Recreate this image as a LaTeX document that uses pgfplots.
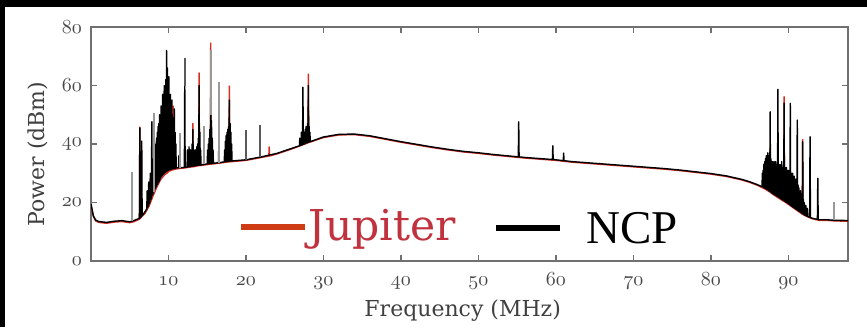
\documentclass[border=0pt]{standalone}
\usepackage{fontspec}
\usepackage{graphicx}
\usepackage{pgfplots}
\pgfplotsset{compat=1.18}
\newfontfamily\labelfont{DejaVu Serif}
\newfontfamily\jupfont{DejaVu Serif}
\newfontfamily\ncpfont{Liberation Serif}
\newcommand\osf[1]{\scalebox{2.0}{\fontsize{10}{12}\usefont{OML}{cmm}{m}{it}#1}}
\definecolor{axgray}{HTML}{707070}
\definecolor{lblgray}{HTML}{484848}
\definecolor{labgray}{HTML}{404040}
\definecolor{juptext}{RGB}{192,50,62}
\definecolor{jupline}{RGB}{205,60,20}
\definecolor{jupdata}{RGB}{215,45,35}
\begin{document}
\begin{tikzpicture}
\fill[black] (0pt,0pt) rectangle (867pt,-327pt);
\fill[white] (5pt,-7pt) rectangle (867pt,-327pt);
\begin{axis}[
  at={(91pt,-261pt)}, anchor=south west,
  width=757pt, height=234pt, scale only axis,
  xmin=0, xmax=97.7, ymin=0, ymax=80,
  xtick={10,20,30,40,50,60,70,80,90},
  xticklabels={\osf{10},\osf{20},\osf{30},\osf{40},\osf{50},\osf{60},\osf{70},\osf{80},\osf{90}},
  ytick={0,20,40,60,80},
  yticklabels={\osf{0},\osf{20},\osf{40},\osf{60},\osf{80}},
  tick align=inside,
  major tick length=6pt,
  axis line style={draw=axgray, line width=2pt},
  every tick/.style={draw=axgray, line width=1.6pt},
  tick label style={text=lblgray},
  xticklabel style={inner sep=0pt, text height=24pt, text depth=0pt},
  yticklabel style={anchor=east, inner sep=0pt, xshift=-9pt},
  xlabel={Frequency (MHz)},
  ylabel={Power (dBm)},
  xlabel style={font=\labelfont\fontsize{22}{26}\selectfont, text=labgray, at={(axis description cs:0.491,-0.214)}, anchor=center},
  ylabel style={font=\labelfont\fontsize{22}{26}\selectfont, text=labgray, at={(axis description cs:-0.070,0.457)}, anchor=center},
  unbounded coords=jump,
]
% Jupiter
\addplot[jupdata, line width=1.4pt, line join=round] coordinates {
(0,19.3)(0.3,15.2)(0.6,13.7)(1,13.2)(2,12.9)(3,13.3)(4,13.5)(5,13.1)(5.5,13.4)(6,14)(6.25,14.3)(6.3,45.8)(6.35,14.5)(6.5,15)(7,16.4)(7.5,18.8)(8,22.2)(8.5,25.3)(9,27.9)(9.5,29.5)(9.7,29.8)(9.75,55)(9.8,30)(10,30.6)(10.55,31.2)(10.6,53)(10.65,31.2)(11,31.5)(12,31.8)(13.1,32.2)(13.15,47)(13.2,32.2)(13.9,32.6)(13.95,64.3)(14.0,32.6)(15.4,33.1)(15.45,74.5)(15.5,33.1)(17.8,33.9)(17.85,59.8)(17.9,33.9)(20,34.4)(22,35.4)(22.95,35.9)(23,39)(23.05,35.9)(24,36.6)(26,38.4)(28,40.4)(28.05,63.9)(28.1,40.5)(30,42.2)(32,43.1)(34,43.2)(36,42.6)(38,41.6)(40,40.6)(42,39.7)(44,38.8)(46,38)(48,37.3)(50,36.8)(52,36.2)(54,35.7)(56,35.2)(58,34.8)(60,34.4)(62,33.8)(64,33.4)(66,33)(68,32.6)(70,32.2)(72,31.8)(74,31.4)(76,30.9)(78,30.3)(80,29.7)(82,28.9)(84,27.7)(85,26.9)(86,25.9)(87,24.6)(87.6,23.6)(87.65,38.6)(87.7,23.4)(88,22.8)(89,21.1)(89.4,20.4)(89.45,56.2)(89.5,20.3)(90,19.4)(91,17.5)(91.8,16)(91.85,41.5)(91.9,15.9)(92,15.7)(93,14.5)(94,13.9)(95,13.9)(96,13.7)(97.7,13.6)
};
% NCP
\addplot[black, line width=1.4pt, line join=round] coordinates {
(0,19.5)(0.3,15.5)(0.6,14)(1,13.5)(2,13.2)(3,13.6)(4,13.8)(5,13.4)(5.5,13.8)(6,14.3)
(6.25,14.6)(6.3,45.5)(6.35,14.8)(6.5,15.3)(6.55,41)(6.6,15.5)(6.8,16.2)(7,17)
(7.2,17.8)(7.25,24)(7.3,18.3)(7.4,19)(7.45,27)(7.5,19.5)(7.6,20.2)(7.65,30)(7.7,21)(7.8,21.8)(7.85,47.6)(7.9,22.5)(8.0,23)(8.05,35)(8.1,23.6)(8.15,37)(8.2,24.2)(8.25,36)(8.3,24.8)(8.35,40)(8.4,25.3)(8.45,42)(8.5,26)
(8.55,44)(8.6,26.2)(8.65,46)(8.7,26.8)(8.75,47)(8.8,27.3)(8.85,50)(8.9,27.8)(8.95,48)(9.0,28.5)(9.05,53)(9.1,28.8)(9.15,50)(9.2,29.2)(9.25,57)(9.3,29.5)(9.35,54)(9.4,29.8)(9.45,60)(9.5,30)(9.55,57)(9.6,30.3)(9.65,62)(9.7,30.5)(9.75,72)(9.8,30.7)(9.85,66)(9.9,30.9)(9.95,60)(10.0,31)(10.05,63)(10.1,31.1)(10.15,55)(10.2,31.2)(10.25,57)(10.3,31.3)(10.35,52)(10.4,31.4)(10.45,55)(10.5,31.5)(10.55,49)(10.6,31.5)(10.65,47)(10.7,31.6)(10.75,52)(10.8,31.6)(10.85,44)(10.9,31.7)(10.95,40)(11.0,31.8)(11.1,31.8)
(11.3,31.9)(11.35,36)(11.4,31.9)(11.6,31.9)(12.05,32)(12.1,62)(12.15,32)
(12.4,32.1)(12.45,38)(12.5,32.1)(12.55,37)(12.6,32.2)(12.65,39)(12.7,32.2)(12.75,36)(12.8,32.3)(12.85,38)(12.9,32.3)(12.95,37)(13.0,32.4)(13.05,40)(13.1,32.4)(13.15,45)(13.2,32.4)(13.25,38)(13.3,32.5)(13.35,36)(13.4,32.5)(13.45,38)(13.5,32.6)(13.55,37)(13.6,32.6)(13.65,39)(13.7,32.7)(13.75,40)(13.8,32.7)(13.85,42)(13.9,32.7)(13.95,60)(14.0,32.8)(14.05,44)(14.1,32.8)(14.15,38)(14.2,32.8)(14.3,32.9)
(15.0,33.2)(15.05,38)(15.1,33.2)(15.15,40)(15.2,33.2)(15.25,42)(15.3,33.3)(15.35,45)(15.4,33.3)(15.45,56.7)(15.5,33.3)(15.55,48)(15.6,33.4)(15.65,42)(15.7,33.4)(15.75,38)(15.8,33.4)
(16.45,33.6)(16.5,40)(16.55,33.6)
(17.2,33.9)(17.25,38)(17.3,33.9)(17.35,41)(17.4,34)(17.45,43)(17.5,34)(17.55,44)(17.6,34)(17.65,45)(17.7,34)(17.75,46)(17.8,34.1)(17.85,55)(17.9,34.1)(17.95,47)(18.0,34.1)(18.05,44)(18.1,34.1)(18.15,40)(18.2,34.2)
(20,34.6)(22,35.6)(23,36.2)(24,36.8)(26,38.6)
(26.9,39.4)(26.95,42)(27.0,39.5)(27.1,39.6)(27.15,44)(27.2,39.7)(27.3,39.8)(27.35,59.4)(27.4,39.9)(27.5,40)(27.55,44)(27.6,40.1)(27.65,45)(27.7,40.2)(27.75,46)(27.8,40.3)(27.85,44)(27.9,40.4)(27.95,47)(28.0,40.5)(28.05,60)(28.1,40.6)(28.15,46)(28.2,40.7)(28.25,44)(28.3,40.8)(28.4,40.9)
(30,42.4)(32,43.3)(34,43.4)(36,42.8)(38,41.8)(40,40.8)(42,39.9)(44,39)(46,38.2)(48,37.5)(50,37)(52,36.4)(54,35.9)(55.15,35.6)(55.2,47.6)(55.25,35.6)(56,35.4)(58,35)(59.55,34.7)(59.6,39.4)(59.65,34.7)(60,34.6)(60.95,34.3)(61,36.9)(61.05,34.3)(62,34)(64,33.6)(66,33.2)(68,32.8)(70,32.4)(72,32)(74,31.6)(76,31.1)(78,30.5)(80,29.9)(82,29.1)(84,27.9)(85,27.1)(86,26.1)
(86.6,25.4)(86.65,30)(86.7,25.3)(86.75,31)(86.8,25.1)(86.85,33)(86.9,25)(86.95,34)(87.0,24.8)(87.05,35)(87.1,24.7)(87.15,36)(87.2,24.5)(87.25,36)(87.3,24.4)(87.35,37)(87.4,24.2)(87.45,36)(87.5,24)(87.55,35)(87.6,23.8)(87.65,51)(87.7,23.6)(87.75,35)(87.8,23.4)(87.85,34)(87.9,23.2)(87.95,34)(88.0,23)(88.05,33)(88.1,22.8)(88.15,34)(88.2,22.7)(88.25,33)(88.3,22.5)(88.35,34)(88.4,22.4)(88.45,33)(88.5,22.2)(88.55,32)(88.6,22.0)(88.65,58.7)(88.7,21.9)(88.75,33)(88.8,21.7)(88.85,32)(88.9,21.5)(88.95,33)(89.0,21.3)(89.05,32)(89.1,21.2)(89.15,34)(89.2,21)(89.25,32)(89.3,20.8)(89.35,31)(89.4,20.7)(89.45,54)(89.5,20.5)(89.55,32)(89.6,20.3)(89.65,31)(89.7,20.1)(89.75,32)(89.8,20)(89.85,31)(89.9,19.8)(89.95,30)(90.0,19.6)(90.05,31)(90.1,19.4)(90.15,30)(90.2,19.2)(90.25,53.9)(90.3,19)(90.35,30)(90.4,18.8)(90.45,29)(90.5,18.6)(90.55,30)(90.6,18.4)(90.65,28)(90.7,18.2)(90.75,29)(90.8,18.1)(90.85,27)(90.9,17.9)(90.95,28)(91.0,17.7)(91.05,26)(91.1,17.5)(91.15,48.2)(91.2,17.3)(91.25,26)(91.3,17.1)(91.35,25)(91.4,17)(91.45,24)(91.5,16.8)(91.55,24)(91.6,16.6)(91.65,23)(91.7,16.4)(91.75,22)(91.8,16.2)(91.85,40.8)(91.9,16.1)(91.95,21)(92.0,15.9)(92.05,20)(92.1,15.8)(92.2,15.6)(92.25,19)(92.3,15.5)(92.4,15.3)(92.45,18)(92.5,15.2)(92.75,15)(92.8,42.5)(92.85,14.9)(93,14.7)(93.75,14.2)(93.8,28.3)(93.85,14.2)(94,14.1)(95,14.1)(96,13.9)(97,13.9)(97.7,13.8)
};
% light grey spikes (faint lines)
\addplot[black!40, line width=2pt] coordinates {
(5.3,13.6)(5.3,30.5)(5.31,nan)
(8.1,23.6)(8.1,50.5)(8.11,nan)
(11.5,31.9)(11.5,43.7)(11.51,nan)
(14.6,33)(14.6,46)(14.61,nan)
(15.45,50)(15.45,72)(15.46,nan)
(16.5,33.6)(16.5,61.3)(16.51,nan)
(95.9,14)(95.9,20.3)
};
% dark grey spikes
\addplot[black!65, line width=2pt] coordinates {
(12.1,60)(12.1,69.3)(12.11,nan)
(20.0,34.6)(20.0,44.8)(20.01,nan)
(21.8,35.5)(21.8,46.5)
};
\end{axis}
% legend
\draw[jupline, line width=6pt] (241pt,-227pt) -- (305pt,-227pt);
\node[anchor=base west, inner sep=0pt, text=juptext, font=\jupfont\fontsize{42.5}{50}\selectfont] at (308pt,-240pt) {Jupiter};
\draw[black, line width=6pt] (496pt,-228pt) -- (560pt,-228pt);
\node[anchor=base west, inner sep=0pt, font=\ncpfont\fontsize{47}{56}\selectfont] at (586pt,-243pt) {NCP};
\pgfresetboundingbox
\useasboundingbox (0pt,0pt) rectangle (867pt,-327pt);
\end{tikzpicture}
\end{document}
